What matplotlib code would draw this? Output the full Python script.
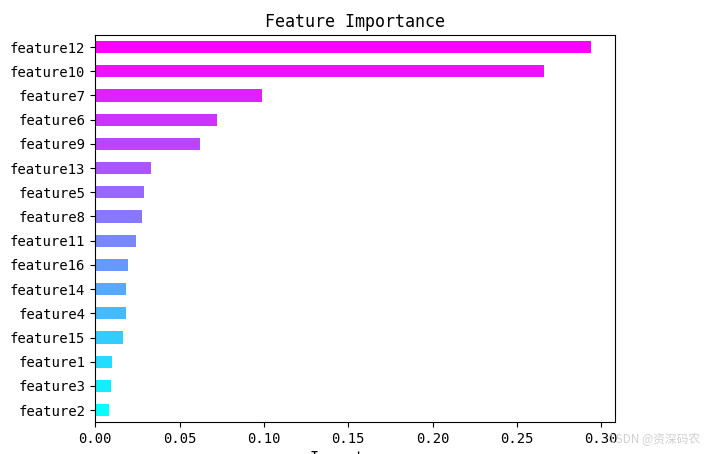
import matplotlib.pyplot as plt
import numpy as np

features = ["feature2", "feature3", "feature1", "feature15", "feature4", "feature14",
            "feature16", "feature11", "feature8", "feature5", "feature13", "feature9",
            "feature6", "feature7", "feature10", "feature12"]
importance = [0.0083, 0.0095, 0.0100, 0.0166, 0.0180, 0.0180,
              0.0196, 0.0240, 0.0280, 0.0290, 0.0330, 0.0620,
              0.0720, 0.0990, 0.2660, 0.2940]

plt.rcParams["font.family"] = ["DejaVu Sans Mono", "Noto Sans CJK SC"]

fig = plt.figure(figsize=(7.05, 4.54), dpi=100)
ax = fig.add_axes([0.135, 0.07, 0.737, 0.853])

colors = plt.cm.cool(np.linspace(0, 1, len(features)))
y = np.arange(len(features))
ax.barh(y, importance, height=0.5, color=colors)
ax.set_yticks(y)
ax.set_yticklabels(features, fontsize=10)
ax.set_ylim(-0.5, len(features) - 0.5)
ax.set_xlim(0, 0.308)
ax.set_xticks([0, 0.05, 0.10, 0.15, 0.20, 0.25, 0.30])
ax.set_xticklabels(["0.00", "0.05", "0.10", "0.15", "0.20", "0.25", "0.30"], fontsize=10)
ax.set_title("Feature Importance", fontsize=12)
ax.set_xlabel("Importance", fontsize=11)

fig.text(0.862, 0.025, "CSDN @资深码农", fontsize=8.5, color="#d0d0d0",
         family=["Noto Sans CJK SC", "DejaVu Sans"])

fig.savefig("out.png", dpi=100)
